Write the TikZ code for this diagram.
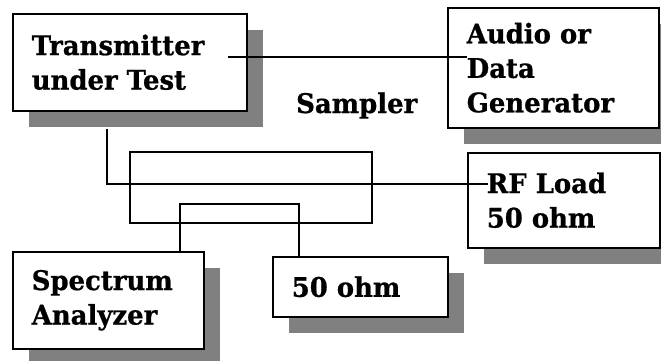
\documentclass[tikz,border=0pt]{standalone}
\usepackage{fontspec}
\setmainfont{DejaVu Serif}[FakeStretch=0.96, BoldFeatures={FakeBold=0.8}]
\usetikzlibrary{shadows,calc}
\definecolor{shadowgray}{HTML}{808080}
\tikzset{
  txt/.style={font=\fontsize{27}{34.5}\selectfont\bfseries},
  blk/.style={txt, draw=black, line width=1.5pt, fill=white, anchor=north west,
    inner xsep=19pt, inner ysep=0pt, align=left,
    drop shadow={shadow xshift=16pt, shadow yshift=-16pt, fill=shadowgray, opacity=1}},
  wire/.style={line width=1.3pt},
  lbl/.style={txt, anchor=base west, inner sep=0pt},
}
\begin{document}
\begin{tikzpicture}[x=1pt,y=-1pt]
\useasboundingbox (0,0) rectangle (661,360);
% blocks
\node[blk, minimum height=97pt, text width=196pt] (tx) at (12,13) {Transmitter\\under Test};
\node[blk, minimum height=120pt, text width=173pt] (ag) at (447,7) {Audio or\\Data\\Generator};
\node[blk, minimum height=95pt, text width=154pt] (rf) at (467,152) {RF Load\\50 ohm};
\node[blk, minimum height=97pt, text width=153pt] (sa) at (12,251) {Spectrum\\Analyzer};
\node[blk, minimum height=60pt, text width=137pt] (fo) at (272,256) {50 ohm};
\node[lbl] (samp) at (296,113) {Sampler};
% connection points
\coordinate (txout) at ($(tx.north west)+(216,44)$);
\coordinate (agin) at ($(ag.north west)+(20,50)$);
\coordinate (txdown) at ($(tx.south west)+(95,17)$);
\coordinate (rfin) at ($(rf.north west)+(21,32)$);
\coordinate (sain) at ($(sa.north west)+(168,0)$);
\coordinate (foin) at ($(fo.north west)+(27,0)$);
\coordinate (innertop) at (0,204);
% wires
\draw[wire] (txout) -- (txout -| agin);
\draw[wire] (txdown) |- (rfin);
\draw[wire] (130,152) rectangle (372,223);
\draw[wire] (sain) -- (sain |- innertop) -- (foin |- innertop) -- (foin);
\end{tikzpicture}
\end{document}
